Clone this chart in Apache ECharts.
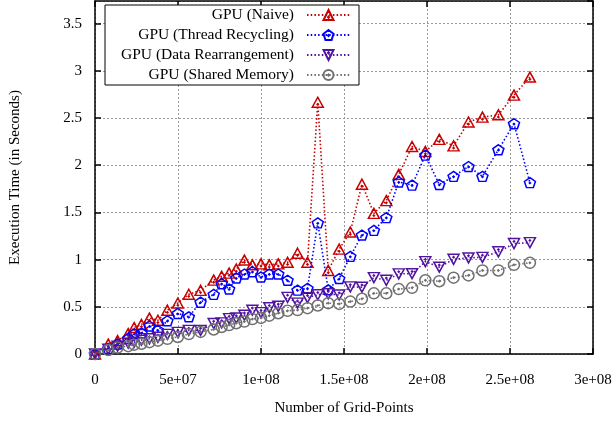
<!DOCTYPE html>
<html>
<head>
<meta charset="utf-8">
<script src="https://cdn.jsdelivr.net/npm/echarts@6/dist/echarts.min.js"></script>
<style>
html,body{margin:0;padding:0;background:#fff;}
#chart{width:616px;height:421px;}
</style>
</head>
<body>
<div id="chart"></div>
<script>
// ---- data ----
const gridPoints = [0, 8.0e6, 13.6e6, 20.0e6, 23.6e6, 28.0e6, 32.8e6, 37.9e6, 43.6e6, 49.9e6, 56.5e6, 63.6e6, 71.5e6, 76.3e6, 80.8e6, 85.1e6, 90.0e6, 94.8e6, 100.0e6, 105.0e6, 110.4e6, 116.0e6, 122.0e6, 128.0e6, 134.2e6, 140.5e6, 147.1e6, 153.8e6, 160.8e6, 168.0e6, 175.5e6, 183.0e6, 191.0e6, 199.0e6, 207.4e6, 216.0e6, 225.0e6, 233.4e6, 243.0e6, 252.4e6, 262.0e6];
const gpuNaive = [0, 0.104, 0.141, 0.217, 0.281, 0.313, 0.38, 0.357, 0.464, 0.54, 0.633, 0.674, 0.783, 0.823, 0.857, 0.899, 0.995, 0.945, 0.955, 0.945, 0.955, 0.972, 1.068, 0.972, 2.667, 0.885, 1.111, 1.292, 1.799, 1.49, 1.625, 1.903, 2.198, 2.146, 2.274, 2.205, 2.458, 2.51, 2.534, 2.743, 2.934];
const gpuThreadRecycling = [0, 0.059, 0.106, 0.164, 0.214, 0.222, 0.297, 0.252, 0.352, 0.429, 0.394, 0.549, 0.632, 0.745, 0.688, 0.805, 0.847, 0.872, 0.816, 0.847, 0.847, 0.781, 0.677, 0.695, 1.389, 0.68, 0.799, 1.034, 1.26, 1.31, 1.445, 1.823, 1.789, 2.107, 1.795, 1.882, 1.986, 1.882, 2.164, 2.44, 1.816];
const gpuDataRearrangement = [0, 0.052, 0.083, 0.115, 0.125, 0.146, 0.161, 0.177, 0.208, 0.229, 0.25, 0.25, 0.323, 0.33, 0.375, 0.382, 0.411, 0.464, 0.438, 0.49, 0.505, 0.6, 0.539, 0.597, 0.628, 0.638, 0.625, 0.711, 0.708, 0.809, 0.781, 0.849, 0.851, 0.979, 0.92, 1.003, 1.018, 1.024, 1.083, 1.17, 1.18];
const gpuSharedMemory = [0, 0.042, 0.068, 0.083, 0.099, 0.109, 0.125, 0.141, 0.161, 0.18, 0.211, 0.234, 0.26, 0.286, 0.307, 0.326, 0.344, 0.37, 0.382, 0.406, 0.432, 0.458, 0.466, 0.486, 0.514, 0.539, 0.531, 0.555, 0.585, 0.643, 0.643, 0.688, 0.701, 0.781, 0.771, 0.809, 0.833, 0.885, 0.885, 0.945, 0.966];
const seriesNames = ['GPU (Naive)', 'GPU (Thread Recycling)', 'GPU (Data Rearrangement)', 'GPU (Shared Memory)'];
const xTickLabels = ['0', '5e+07', '1e+08', '1.5e+08', '2e+08', '2.5e+08', '3e+08'];
const yTickLabels = ['0', '0.5', '1', '1.5', '2', '2.5', '3', '3.5'];
const xTitle = 'Number of Grid-Points';
const yTitle = 'Execution Time (in Seconds)';

// ---- styling ----
const FONT = 'Liberation Serif';
const X_STEP = 5e7, Y_STEP = 0.5;
const colors = ['#c80000', '#0000ff', '#5014a0', '#707070'];
const symbols = [
  'path://M0,-1 L0.95,0.7 L-0.95,0.7 Z M0,0.12 L0.1,0.22 L0,0.32 L-0.1,0.22 Z',
  'path://M0,-1 L0.951,-0.309 L0.588,0.809 L-0.588,0.809 L-0.951,-0.309 Z M0,-0.12 L0.1,-0.02 L0,0.08 L-0.1,-0.02 Z',
  'path://M-0.95,-0.7 L0.95,-0.7 L0,1 Z M0,-0.32 L0.1,-0.22 L0,-0.12 L-0.1,-0.22 Z',
  'path://M1,0 A1,1 0 1,1 -1,0 A1,1 0 1,1 1,0 Z M0.1,0 L0,0.1 L-0.1,0 L0,-0.1 Z'
];
const symbolSizes = [[11, 10], [11, 10], [11, 10], [11, 11]];
const valuesList = [gpuNaive, gpuThreadRecycling, gpuDataRearrangement, gpuSharedMemory];

function pair(xs, ys) { return xs.map((x, i) => [x, ys[i]]); }

const series = valuesList.map((vals, i) => ({
  name: seriesNames[i],
  type: 'line',
  data: pair(gridPoints, vals),
  symbol: symbols[i],
  symbolSize: symbolSizes[i],
  showAllSymbol: true,
  color: colors[i],
  lineStyle: { color: colors[i], width: 1.6, type: [1.5, 2.2] },
  itemStyle: { color: 'rgba(255,255,255,0)', borderColor: colors[i], borderWidth: 1.5 },
  emphasis: { disabled: true },
  animation: false,
  z: 2 + i
}));

const axisCommon = {
  axisLine: { show: true, onZero: false, lineStyle: { color: '#000', width: 1.5 } },
  axisTick: { show: true, inside: true, length: 6, lineStyle: { color: '#000', width: 1.5 } },
};

const option = {
  animation: false,
  backgroundColor: '#fff',
  grid: { left: 93, right: 23, top: 1, bottom: 61, containLabel: false },
  legend: {
    data: seriesNames,
    orient: 'vertical',
    align: 'right',
    left: 105,
    top: 5,
    padding: [2, 8, 2, 16],
    itemGap: 4,
    itemWidth: 43,
    itemHeight: 12.5,
    backgroundColor: '#fff',
    borderColor: '#000',
    borderWidth: 1,
    borderRadius: 0,
    textStyle: { fontFamily: FONT, fontSize: 15.5, color: '#000', lineHeight: 15, padding: [0, 8, 0, 0] },
    selectedMode: false
  },
  xAxis: [
    Object.assign({
      type: 'value', min: 0, max: 3e8, interval: X_STEP, position: 'bottom',
      name: xTitle, nameLocation: 'middle', nameGap: 47,
      nameTextStyle: { fontFamily: FONT, fontSize: 15, color: '#000' },
      axisLabel: {
        fontFamily: FONT, fontSize: 15, color: '#000', margin: 19,
        formatter: v => { const k = Math.round(v / X_STEP); return Math.abs(k * X_STEP - v) < 1 ? (xTickLabels[k] || '') : ''; }
      },
      splitLine: { show: true, lineStyle: { color: '#999', width: 1, type: [2, 2] } }
    }, axisCommon),
    Object.assign({
      type: 'value', min: 0, max: 3e8, interval: X_STEP, position: 'top',
      axisLabel: { show: false }, splitLine: { show: false }
    }, axisCommon)
  ],
  yAxis: [
    Object.assign({
      type: 'value', min: 0, max: 3.74, interval: Y_STEP, position: 'left',
      name: yTitle, nameLocation: 'middle', nameGap: 72, nameRotate: 90,
      nameTextStyle: { fontFamily: FONT, fontSize: 15, color: '#000' },
      axisLabel: {
        fontFamily: FONT, fontSize: 15, color: '#000', margin: 13, showMaxLabel: false,
        formatter: v => { const k = Math.round(v / Y_STEP); return Math.abs(k * Y_STEP - v) < 1e-6 ? (yTickLabels[k] || '') : ''; }
      },
      splitLine: { show: true, lineStyle: { color: '#999', width: 1, type: [2, 2] } }
    }, axisCommon),
    Object.assign({
      type: 'value', min: 0, max: 3.74, interval: Y_STEP, position: 'right',
      axisLabel: { show: false }, splitLine: { show: false }
    }, axisCommon)
  ],
  series: series
};

const chart = echarts.init(document.getElementById('chart'), null, { renderer: 'canvas' });
chart.setOption(option);
</script>
</body>
</html>
